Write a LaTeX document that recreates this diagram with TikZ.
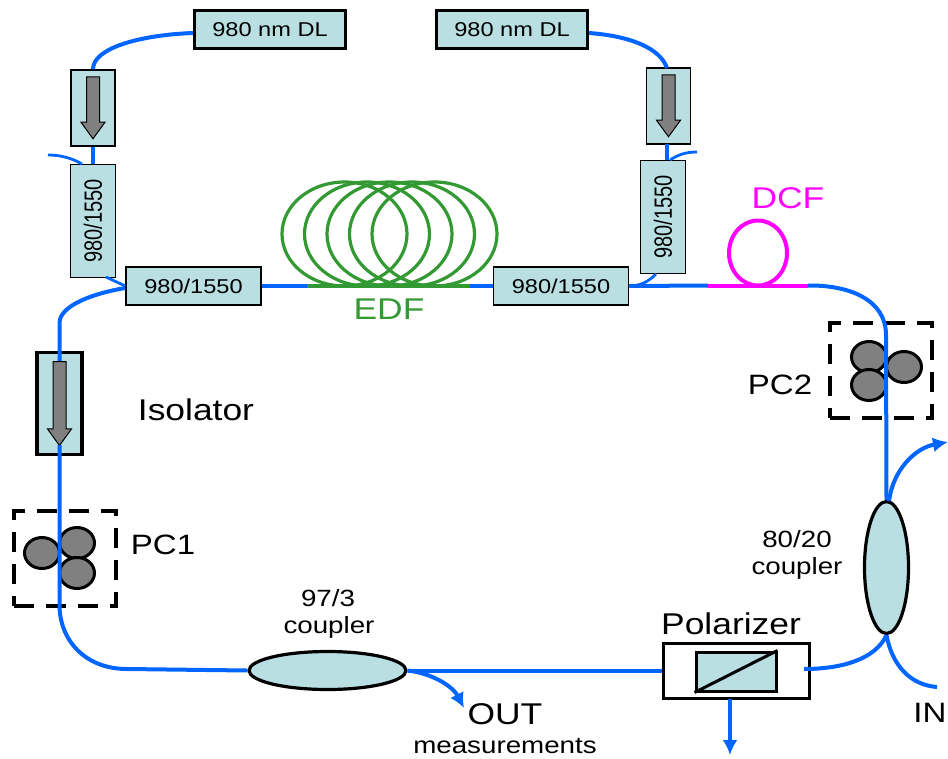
\documentclass[tikz,border=0pt]{standalone}
\usepackage{fontspec}
\setmainfont[FakeStretch=1.18]{Liberation Sans}
\newfontfamily\tallfont[FakeStretch=0.8]{Liberation Sans}
\usetikzlibrary{positioning, shapes.geometric, shapes.arrows, arrows.meta}

\definecolor{boxteal}{HTML}{B9DFE2}
\definecolor{fiberblue}{HTML}{0066FF}
\definecolor{edfgreen}{HTML}{339933}
\definecolor{dcfpink}{HTML}{FF00FF}
\definecolor{padgray}{HTML}{808080}

\begin{document}
\begin{tikzpicture}[x=1pt,y=-1pt,node distance=17pt]
    \tikzstyle{tealbox} = [rectangle,draw=black,fill=boxteal,line width=1.5pt,inner sep=0pt,text centered]
    \tikzstyle{laser} = [tealbox,line width=3.2pt,minimum width=151pt,minimum height=38pt,font=\fontsize{20}{22}\selectfont]
    \tikzstyle{isosmall} = [tealbox,minimum width=44pt,minimum height=76pt]
    \tikzstyle{wdmup} = [tealbox,minimum width=45pt,minimum height=113pt]
    \tikzstyle{wdmflat} = [tealbox,minimum width=135pt,minimum height=38pt,font=\fontsize{20}{22}\selectfont]
    \tikzstyle{tallnum} = [font=\tallfont\fontsize{25}{27}\selectfont,rotate=90,inner sep=0pt]
    \tikzstyle{grayarrow} = [single arrow,draw=black,fill=padgray,line width=1pt,rotate=-90,anchor=tail,inner sep=6pt,minimum height=62pt,single arrow head extend=5.5pt,single arrow tip angle=72]
    \tikzstyle{fiber} = [draw=fiberblue,line width=4pt]
    \tikzstyle{tap} = [draw=fiberblue,line width=2.8pt]
    \tikzstyle{fibertip} = [-{Latex[length=15pt,width=15pt]}]
    \tikzstyle{edfloop} = [ellipse,draw=edfgreen,line width=3.2pt,minimum width=125pt,minimum height=104pt,inner sep=0pt]
    \tikzstyle{pcbox} = [rectangle,draw=black,line width=3.5pt,dash pattern=on 20pt off 12pt,minimum width=102pt,minimum height=95pt]
    \tikzstyle{pcpad} = [ellipse,draw=black,fill=padgray,line width=3pt,minimum width=35pt,minimum height=31pt,inner sep=0pt]
    \tikzstyle{cplr} = [ellipse,draw=black,fill=boxteal,line width=3.2pt,inner sep=0pt]
    \tikzstyle{biglabel} = [font=\fontsize{30}{32}\selectfont,inner sep=0pt]
    \tikzstyle{pclabel} = [font=\fontsize{28}{30}\selectfont,inner sep=0pt]
    \tikzstyle{smalllabel} = [font=\fontsize{23.5}{26}\selectfont,inner sep=0pt]

    \useasboundingbox (0,0) rectangle (948,758);

    % pump branch, left
    \node (dlleft) [laser] at (270,29.5) {980 nm DL};
    \node (isoa) [isosmall] at (93,108) {};
    \node (arrowa) [grayarrow] at ([yshift=-7pt]isoa.north) {};
    \node (wdma) [wdmup,below=of isoa] {};
    \node (wdmatext) [tallnum] at (wdma.center) {980/1550};
    \node (wdmb) [wdmflat] at (193.5,286) {980/1550};
    \coordinate (tailb) at (48,155);
    \coordinate (taila) at (82,164);
    \draw [fiber] (dlleft.west |- 0,33) .. controls (140,35) and (93,48) .. (isoa.north);
    \draw [fiber] (isoa.south) -- (wdma.north);
    \draw [tap] (tailb) .. controls (60,155) and (72,158) .. (taila);
    \draw [tap] (106,277) -- (wdmb.west);

    % pump branch, right
    \node (dlright) [laser] at (512,29.5) {980 nm DL};
    \node (isob) [isosmall] at (668.5,106) {};
    \node (arrowb) [grayarrow] at ([yshift=-7pt]isob.north) {};
    \node (wdmd) [wdmup] at (663,217) {};
    \node (wdmdtext) [tallnum] at (wdmd.center) {980/1550};
    \node (wdmc) [wdmflat,right=231pt of wdmb] {980/1550};
    \coordinate (tailc) at (697,152);
    \coordinate (taild) at (670,160);
    \coordinate (tape) at (656,274);
    \draw [fiber] (dlright.east |- 0,33) .. controls (630,36) and (660,48) .. (667,68);
    \draw [fiber] (667,144) -- (667,160);
    \draw [tap] (tailc) .. controls (685,152) and (678,155) .. (taild);
    \draw [tap] (tape) .. controls (648,282) and (640,286) .. (wdmc.east);

    % EDF
    \foreach \i/\cx in {1/344.5,2/367,3/389.5,4/412,5/434.5}
        \node (edf\i) [edfloop] at (\cx,234) {};
    \coordinate (edfstart) at (307,286);
    \coordinate (edfend) at (470,286);
    \draw [fiber] (wdmb.east) -- (edfstart);
    \draw [fiber] (edfend) -- (wdmc.west);
    \draw [draw=edfgreen,line width=3.2pt] (edfstart) -- (edfend);
    \node (edflabel) [biglabel,text=edfgreen] at (389,309) {EDF};

    % DCF
    \coordinate (dcfstart) at (708,285.5);
    \coordinate (dcfend) at (808,285.5);
    \node (dcfloop) [ellipse,draw=dcfpink,line width=4pt,minimum width=58pt,minimum height=65pt,inner sep=0pt] at (758,253) {};
    \draw [fiber] (wdmc.east) -- (dcfstart);
    \draw [draw=dcfpink,line width=4pt] (dcfstart) -- (dcfend);
    \node (dcflabel) [biglabel,text=dcfpink] at (788,198) {DCF};

    % PC2
    \node (pctwo) [pcbox] at (881,370.5) {};
    \node (pctwoa) [pcpad] at (869,357) {};
    \node (pctwob) [pcpad] at (904,367) {};
    \node (pctwoc) [pcpad] at (869,385) {};
    \node (pctwolabel) [pclabel] at (780,385) {PC2};

    % output coupler 80/20
    \node (cplb) [cplr,minimum width=44pt,minimum height=132pt] at (886.5,567.5) {};
    \node (cplbtop) [smalllabel] at (797,539) {80/20};
    \node (cplblow) [smalllabel] at (797,568) {coupler};
    \draw [fiber] (dcfend) .. controls (850,285) and (886,300) .. (886,335) -- (cplb.north);
    \coordinate (pumpout) at (948,442);
    \coordinate (signalin) at (937,687);
    \draw [fiber,fibertip] (889,501) .. controls (893,470) and (915,448) .. (pumpout);
    \draw [fiber] (signalin) .. controls (910,685) and (892,665) .. (cplb.south);

    % polarizer
    \node (polar) [rectangle,draw=black,fill=white,line width=3pt,minimum width=146pt,minimum height=55pt] at (736,670.5) {};
    \node (polarin) [tealbox,line width=3pt,minimum width=80pt,minimum height=39pt] at (736,671.5) {};
    \draw [line width=3pt] (polarin.south west) -- (polarin.north east);
    \node (polarlabel) [biglabel,above=7pt of polar,xshift=-5pt] {Polarizer};
    \coordinate (polarright) at (804,669);
    \coordinate (polarbelow) at (730,699);
    \coordinate (polardrop) at (730,755);
    \draw [fiber] (polarright) .. controls (840,669) and (875,660) .. (cplb.south);
    \draw [fiber,fibertip] (polarbelow) -- (polardrop);

    % coupler 97/3 and output
    \node (cpla) [cplr,minimum width=157pt,minimum height=38pt] at (327.5,670.5) {};
    \node (cplatop) [smalllabel] at (328,598) {97/3};
    \node (cplalow) [smalllabel] at (329,627) {coupler};
    \coordinate (outtip) at (464,708);
    \draw [fiber] (cpla.east) -- (polar.west);
    \draw [fiber,fibertip] (cpla.east) .. controls (430,673) and (452,685) .. (outtip);
    \node (outlabel) [biglabel] at (505,714) {OUT};
    \node (measlabel) [smalllabel] at (505,746) {measurements};
    \node (inlabel) [pclabel] at (930,713) {IN};

    % isolator and PC1
    \node (isoc) [tealbox,line width=3.2pt,minimum width=45pt,minimum height=102pt] at (59.5,403.5) {};
    \node (pcone) [pcbox] at (65,558.5) {};
    \node (pconea) [pcpad] at (42,553) {};
    \node (pconeb) [pcpad] at (77,543) {};
    \node (pconec) [pcpad] at (77,573) {};
    \node (pconelabel) [pclabel] at (163,545) {PC1};
    \node (isolabel) [biglabel] at (196,410) {Isolator};
    \coordinate (arrowcstart) at (59.5,361);
    \coordinate (arrowcend) at (59.5,445);
    \draw [fiber] (wdmb.west |- 0,288) .. controls (95,293) and (59.5,305) .. (59.5,323) -- (arrowcstart);
    \node (arrowc) [grayarrow,minimum height=84pt] at (arrowcstart) {};
    \draw [fiber] (arrowcend) -- (59.5,605) .. controls (59.5,640) and (85,669) .. (127,669) -- (cpla.west);
\end{tikzpicture}
\end{document}
